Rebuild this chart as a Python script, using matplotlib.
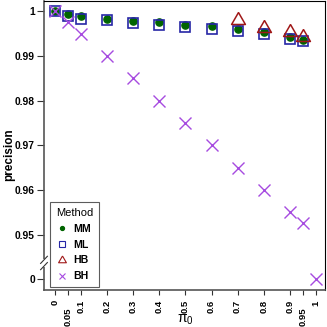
import matplotlib
matplotlib.use("Agg")
import matplotlib.pyplot as plt
from matplotlib.lines import Line2D
from matplotlib.patches import Rectangle
from matplotlib.transforms import ScaledTranslation

plt.rcParams['font.family'] = ['Liberation Sans', 'DejaVu Sans']

pi0 = [0, 0.05, 0.1, 0.2, 0.3, 0.4, 0.5, 0.6, 0.7, 0.8, 0.9, 0.95, 1]
mm = [1.0, 0.9994, 0.9990, 0.9983, 0.9978, 0.9975, 0.9970, 0.9967, 0.9961, 0.9954, 0.9942, 0.9936, None]
ml = [1.0, 0.9990, 0.9983, 0.9980, 0.9973, 0.9970, 0.9964, 0.9960, 0.9956, 0.9950, 0.9939, 0.9933, None]
hb = [None, None, None, None, None, None, None, None, 0.9981, 0.9963, 0.9953, 0.9942, None]
bh = [1.0, 0.9975, 0.995, 0.99, 0.985, 0.98, 0.975, 0.97, 0.965, 0.96, 0.955, 0.9525, 0.0]

xticks = pi0
xticklabels = ['0', '0.05', '0.1', '0.2', '0.3', '0.4', '0.5', '0.6', '0.7', '0.8', '0.9', '0.95', '1']
yticks_vals = [1.0, 0.99, 0.98, 0.97, 0.96, 0.95, 0.0]
yticklabels = ['1', '0.99', '0.98', '0.97', '0.96', '0.95', '0']

BREAK_POS = 0.94  # where the value 0 is drawn on the broken axis

def tr(v):
    return BREAK_POS if v == 0 else v

def series(vals):
    xs, ys = [], []
    for x, v in zip(pi0, vals):
        if v is None:
            continue
        xs.append(x)
        ys.append(tr(v))
    return xs, ys

fig = plt.figure(figsize=(3.27, 3.27), dpi=100)
ax = fig.add_axes([44/327, 1 - 290/327, 281/327, 289/327])

c_mm = '#006400'
c_ml = '#2626A6'
c_hb = '#A01818'
c_bh = '#A64BE0'
tri = [(0, 1), (-0.866, -0.5), (0.866, -0.5), (0, 1)]

x, y = series(mm)
ax.plot(x, y, 'o', color=c_mm, ms=5.2, mec=c_mm, zorder=3)
x, y = series(ml)
ax.plot(x, y, 's', mfc='none', mec=c_ml, ms=7.6, mew=1.2, zorder=4)
x, y = series(hb)
ax.plot(x, y, marker=tri, ls='none', mfc='none', mec=c_hb, ms=11.5, mew=1.1, zorder=5)
x, y = series(bh)
ax.plot(x, y, 'x', color=c_bh, ms=8, mew=1.0, zorder=6)

ax.set_xlim(-0.042, 1.035)
ax.set_ylim(0.9376, 1.0023)

ax.set_xticks(xticks)
ax.set_xticklabels(xticklabels, rotation=90, fontweight='bold', fontsize=6.8)
ax.set_yticks([tr(v) for v in yticks_vals])
ax.set_yticklabels(yticklabels, fontweight='bold', fontsize=7.4)
ax.tick_params(axis='y', length=5, width=0.8, color='#333333', pad=1.5)
ax.tick_params(axis='x', length=3.8, width=0.8, color='#333333', pad=3.5)

shift = ScaledTranslation(0, -7/100, fig.dpi_scale_trans)
for lab in ax.get_xticklabels():
    if lab.get_text() in ('0.05', '0.95'):
        lab.set_transform(lab.get_transform() + shift)

for s in ['left', 'bottom']:
    ax.spines[s].set_color('#555555')
    ax.spines[s].set_linewidth(1.2)
for s in ['top', 'right']:
    ax.spines[s].set_color('black')
    ax.spines[s].set_linewidth(0.8)

fig.text(9/327, 1 - 155/327, 'precision', rotation=90, fontweight='bold', fontsize=8.5,
         ha='center', va='center')
fig.text(185/327, 1 - 320/327, r'$\mathregular{\pi_0}$', fontsize=10, ha='center', va='center')

# axis break marks on left axis
yb = 0.94365
trans = ax.get_yaxis_transform()
ax.add_patch(Rectangle((-0.012, yb - 0.0009), 0.024, 0.0018, transform=trans,
                       facecolor='white', edgecolor='none', clip_on=False, zorder=10))
for dy in (-0.0007, 0.0007):
    ax.plot([-0.012, 0.012], [yb + dy - 0.0008, yb + dy + 0.0008], transform=trans,
            color='#333333', lw=0.8, clip_on=False, zorder=11)

handles = [
    Line2D([], [], marker='o', ls='none', color=c_mm, ms=2.8),
    Line2D([], [], marker='s', ls='none', mfc='none', mec=c_ml, ms=4.3, mew=0.8),
    Line2D([], [], marker=tri, ls='none', mfc='none', mec=c_hb, ms=6.5, mew=0.8),
    Line2D([], [], marker='x', ls='none', color=c_bh, ms=4, mew=0.8),
]
leg = ax.legend(handles, ['MM', 'ML', 'HB', 'BH'], title='Method', loc='lower left',
                bbox_to_anchor=(0.021, 0.010), prop={'weight': 'bold', 'size': 7.6},
                title_fontsize=8, frameon=True, fancybox=False, handlelength=0.8,
                handletextpad=0.7, borderpad=0.55, labelspacing=0.55, borderaxespad=0)
leg.get_frame().set_edgecolor('#333333')
leg.get_frame().set_linewidth(0.8)

fig.savefig('out.png', dpi=100)
